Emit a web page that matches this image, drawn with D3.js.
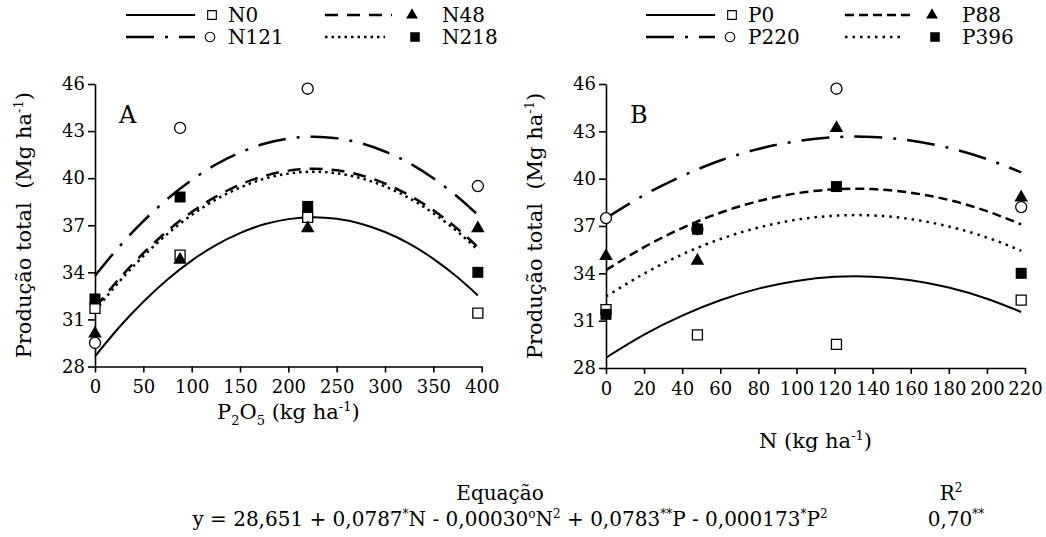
<!DOCTYPE html>
<html lang="pt">
<head>
<meta charset="UTF-8">
<style>
  body { margin: 0; background: #fff; }
</style>
<title>Produção total</title>
</head>
<body>
<div id="chart"></div>
<script src="https://cdnjs.cloudflare.com/ajax/libs/d3/7.8.5/d3.min.js"></script>
<script>
// ---- data ----
const yTicks = [28, 31, 34, 37, 40, 43, 46];
const pTicks = [0, 50, 100, 150, 200, 250, 300, 350, 400];
const nTicks = [0, 20, 40, 60, 80, 100, 120, 140, 160, 180, 200, 220];

const pLevels = [0, 88, 220, 396];
const nLevels = [0, 48, 121, 218];

// observed points, panel A (x = P2O5)
const obsN0   = [31.7, 35.1, 37.5, 31.4];
const obsN48  = [30.1, 34.8, 36.8, 36.8];
const obsN121 = [29.5, 43.2, 45.7, 39.5];
const obsN218 = [32.3, 38.8, 38.2, 34.0];

// observed points, panel B (x = N)
const obsP0   = [31.7, 30.1, 29.5, 32.3];
const obsP88  = [35.1, 34.8, 43.2, 38.8];
const obsP220 = [37.5, 36.8, 45.7, 38.2];
const obsP396 = [31.4, 36.8, 39.5, 34.0];

// fitted curves
const curveP = [0, 25, 50, 75, 100, 125, 150, 175, 200, 225, 250, 275, 300, 325, 350, 375, 396];
const fitN0   = [28.65, 30.50, 32.13, 33.55, 34.75, 35.74, 36.50, 37.06, 37.39, 37.51, 37.41, 37.10, 36.57, 35.83, 34.86, 33.69, 32.53];
const fitN48  = [31.74, 33.59, 35.22, 36.64, 37.84, 38.82, 39.59, 40.14, 40.48, 40.60, 40.50, 40.19, 39.66, 38.91, 37.95, 36.77, 35.61];
const fitN121 = [33.78, 35.63, 37.26, 38.68, 39.88, 40.87, 41.63, 42.19, 42.52, 42.64, 42.54, 42.23, 41.70, 40.96, 39.99, 38.82, 37.66];
const fitN218 = [31.55, 33.40, 35.03, 36.45, 37.65, 38.64, 39.40, 39.96, 40.29, 40.41, 40.31, 40.00, 39.47, 38.73, 37.76, 36.59, 35.43];

const curveN = [0, 20, 40, 60, 80, 100, 120, 140, 160, 180, 200, 218];
const fitP0   = [28.65, 30.11, 31.32, 32.29, 33.03, 33.52, 33.78, 33.79, 33.56, 33.10, 32.39, 31.55];
const fitP88  = [34.20, 35.66, 36.87, 37.84, 38.58, 39.07, 39.33, 39.34, 39.11, 38.65, 37.94, 37.10];
const fitP220 = [37.50, 38.96, 40.17, 41.15, 41.88, 42.37, 42.63, 42.64, 42.42, 41.95, 41.24, 40.40];
const fitP396 = [32.53, 33.98, 35.20, 36.17, 36.90, 37.40, 37.65, 37.67, 37.44, 36.97, 36.27, 35.43];

const namesA = ["N0", "N48", "N121", "N218"];
const namesB = ["P0", "P88", "P220", "P396"];

// ---- styles ----
const FONT = "DejaVu Serif";
const marks = [
  { sym: d3.symbolSquare,   size: 100, fill: "#fff", stroke: "#000" },
  { sym: d3.symbolTriangle, size: 80,  fill: "#000", stroke: "none" },
  { sym: d3.symbolCircle,   size: 96,  fill: "#fff", stroke: "#000" },
  { sym: d3.symbolSquare,   size: 121, fill: "#000", stroke: "none" }
];
const dashA = [null, "13,9", "28,11,3,11", "2.5,4"];
const dashB = [null, "9,5", "28,11,3,11", "2.5,5"];

const W = 1046, H = 537;
const svg = d3.select("#chart").append("svg")
  .attr("width", W).attr("height", H);

function txt(sel, size) {
  return sel.append("text").attr("font-family", FONT).attr("font-size", size).attr("fill", "#000");
}

function panel(opt) {
  const x = d3.scaleLinear().domain(opt.xDomain).range(opt.xRange);
  const y = d3.scaleLinear().domain([28, 46]).range(opt.yRange);
  const g = svg.append("g");

  const xAxis = g.append("g")
    .attr("transform", "translate(0," + opt.yRange[0] + ")")
    .call(d3.axisBottom(x).tickValues(opt.xTicks).tickSize(6).tickPadding(8).tickSizeOuter(0));
  const yAxis = g.append("g")
    .attr("transform", "translate(" + opt.xRange[0] + ",0)")
    .call(d3.axisLeft(y).tickValues(yTicks).tickSize(7).tickPadding(3).tickSizeOuter(0));
  [xAxis, yAxis].forEach(a => {
    a.attr("font-family", FONT).attr("font-size", 18);
    a.select(".domain").attr("stroke", "#000").attr("stroke-width", 1.6);
    a.selectAll(".tick line").attr("stroke", "#000").attr("stroke-width", 1.6);
    a.selectAll(".tick text").attr("fill", "#000");
  });

  const line = d3.line()
    .x((d, i) => x(opt.curveX[i]))
    .y(d => y(d))
    .curve(d3.curveNatural);

  opt.fits.forEach((f, k) => {
    g.append("path")
      .attr("d", line(f))
      .attr("fill", "none")
      .attr("stroke", "#000")
      .attr("stroke-width", k === 0 ? 2 : 2.5)
      .attr("stroke-dasharray", opt.dash[k]);
  });

  opt.obs.forEach((o, k) => {
    const m = marks[k];
    g.selectAll(null).data(o).enter().append("path")
      .attr("d", d3.symbol().type(m.sym).size(m.size))
      .attr("transform", (d, i) => "translate(" + x(opt.levels[i]) + "," + y(d) + ")")
      .attr("fill", m.fill)
      .attr("stroke", m.stroke)
      .attr("stroke-width", 1.3);
  });

  // panel letter
  txt(g, 24).attr("x", opt.xRange[0] + 24).attr("y", 123).text(opt.letter);

  // y title
  const yt = txt(g, 21)
    .attr("transform", "translate(" + (opt.xRange[0] - 64) + "," + ((opt.yRange[0] + opt.yRange[1]) / 2) + ") rotate(-90)")
    .attr("text-anchor", "middle");
  yt.append("tspan").text("Produção total\u00a0\u00a0(Mg ha");
  yt.append("tspan").attr("dy", -8).attr("font-size", 13).text("-1");
  yt.append("tspan").attr("dy", 8).text(")");

  // x title
  const xt = txt(g, 21)
    .attr("x", (opt.xRange[0] + opt.xRange[1]) / 2)
    .attr("y", opt.xTitleY)
    .attr("text-anchor", "middle");
  opt.xTitle(xt);

  // legend
  const lg = svg.append("g").attr("transform", "translate(" + opt.legendX + ",0)");
  const cells = [[0, 15], [199, 15], [0, 37], [199, 37]];
  opt.names.forEach((nm, k) => {
    const c = cells[k];
    const len = k === 3 ? 60 : (k === 1 ? 67 : 69);
    lg.append("line")
      .attr("x1", c[0]).attr("x2", c[0] + len)
      .attr("y1", c[1]).attr("y2", c[1])
      .attr("stroke", "#000")
      .attr("stroke-width", k === 0 ? 2 : 2.5)
      .attr("stroke-dasharray", opt.dash[k]);
    const m = marks[k];
    const mx = k === 0 ? 86 : k === 1 ? 87 : k === 2 ? 84 : 90;
    lg.append("path")
      .attr("d", d3.symbol().type(m.sym).size(m.size * 0.75))
      .attr("transform", "translate(" + (c[0] + mx) + "," + c[1] + ")")
      .attr("fill", m.fill).attr("stroke", m.stroke).attr("stroke-width", 1.1);
    txt(lg, 20).attr("x", c[0] + (k % 2 === 0 ? 102 : 117)).attr("y", c[1] + 7).text(nm);
  });
}

panel({
  xDomain: [0, 400], xRange: [95, 481.7], yRange: [366.5, 84],
  xTicks: pTicks, levels: pLevels, curveX: curveP,
  fits: [fitN0, fitN48, fitN121, fitN218],
  obs: [obsN0, obsN48, obsN121, obsN218],
  dash: dashA, names: namesA, letter: "A", legendX: 126, xTitleY: 419,
  xTitle: t => {
    t.append("tspan").text("P");
    t.append("tspan").attr("dy", 6).attr("font-size", 13).text("2");
    t.append("tspan").attr("dy", -6).text("O");
    t.append("tspan").attr("dy", 6).attr("font-size", 13).text("5");
    t.append("tspan").attr("dy", -6).text(" (kg ha");
    t.append("tspan").attr("dy", -8).attr("font-size", 13).text("-1");
    t.append("tspan").attr("dy", 8).text(")");
  }
});

panel({
  xDomain: [0, 220], xRange: [606, 1025], yRange: [368, 84],
  xTicks: nTicks, levels: nLevels, curveX: curveN,
  fits: [fitP0, fitP88, fitP220, fitP396],
  obs: [obsP0, obsP88, obsP220, obsP396],
  dash: dashB, names: namesB, letter: "B", legendX: 646, xTitleY: 448,
  xTitle: t => {
    t.append("tspan").text("N (kg ha");
    t.append("tspan").attr("dy", -8).attr("font-size", 13).text("-1");
    t.append("tspan").attr("dy", 8).text(")");
  }
});

// ---- equation block ----
txt(svg, 20).attr("x", 500).attr("y", 500).attr("text-anchor", "middle").text("Equação");
const r2 = txt(svg, 20).attr("x", 951).attr("y", 500).attr("text-anchor", "middle");
r2.append("tspan").text("R");
r2.append("tspan").attr("dy", -8).attr("font-size", 12).text("2");

const eqParts = [
  ["y = 28,651 + 0,0787", 0], ["*", 1], ["N - 0,00030", 0], ["o", 1], ["N", 0], ["2", 1],
  [" + 0,0783", 0], ["**", 1], ["P - 0,000173", 0], ["*", 1], ["P", 0], ["2", 1]
];
const eq = txt(svg, 20).attr("x", 510).attr("y", 526).attr("text-anchor", "middle");
let up = false;
eqParts.forEach(p => {
  const ts = eq.append("tspan").text(p[0]);
  if (p[1] && !up) { ts.attr("dy", -8).attr("font-size", 12); up = true; }
  else if (p[1]) { ts.attr("font-size", 12); }
  else if (up) { ts.attr("dy", 8); up = false; }
});
const r2v = txt(svg, 20).attr("x", 956).attr("y", 526).attr("text-anchor", "middle");
r2v.append("tspan").text("0,70");
r2v.append("tspan").attr("dy", -8).attr("font-size", 12).text("**");
</script>
</body>
</html>
